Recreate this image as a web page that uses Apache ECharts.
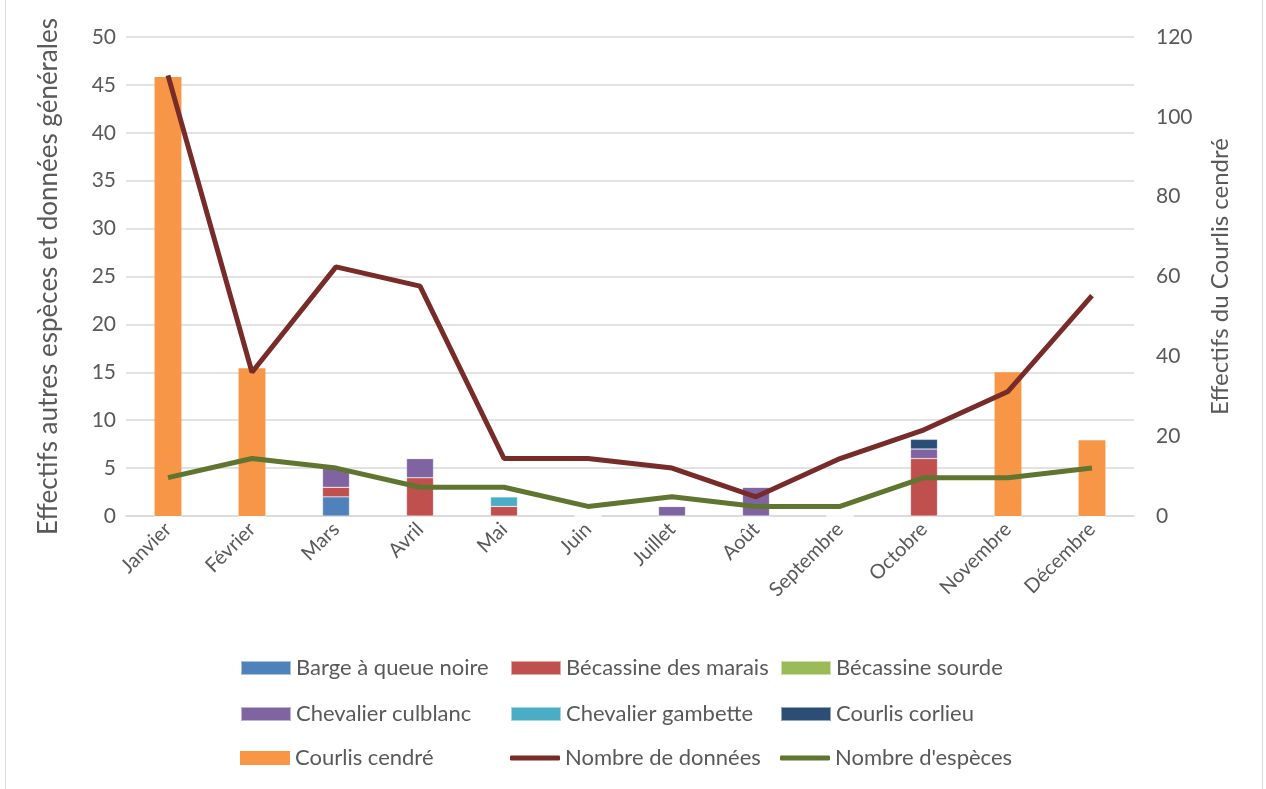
<!DOCTYPE html>
<html><head><meta charset="utf-8">
<script src="https://cdn.jsdelivr.net/npm/echarts@6/dist/echarts.min.js"></script>
<style>html,body{margin:0;padding:0;background:#fff;overflow:hidden}
#frame{position:absolute;left:5px;top:-2px;width:1258px;height:792px;border:1px solid #d9d9d9;box-sizing:border-box}
#c{position:absolute;left:0;top:0;width:1266px;height:789px}</style>
</head><body><div id="frame"></div><div id="c"></div>
<script>
const months = ['Janvier','Février','Mars','Avril','Mai','Juin','Juillet','Août','Septembre','Octobre','Novembre','Décembre'];
const bargeQueueNoire    = [0,0,2,0,0,0,0,0,0,0,0,0];
const becassineMarais    = [0,0,1,4,1,0,0,0,0,6,0,0];
const becassineSourde    = [0,0,0,0,0,0,0,0,0,0,0,0];
const chevalierCulblanc  = [0,0,2,2,0,0,1,3,0,1,0,0];
const chevalierGambette  = [0,0,0,0,1,0,0,0,0,0,0,0];
const courlisCorlieu     = [0,0,0,0,0,0,0,0,0,1,0,0];
const courlisCendre      = [110,37,0,0,0,0,0,0,0,0,36,19];
const nombreDonnees      = [46,15,26,24,6,6,5,2,6,9,13,23];
const nombreEspeces      = [4,6,5,3,3,1,2,1,1,4,4,5];
const leftTicks = [0,50,5];
const rightTicks = [0,120,20];
const legendOrder = ['Barge à queue noire','Bécassine des marais','Bécassine sourde',
  'Chevalier culblanc','Chevalier gambette','Courlis corlieu',
  'Courlis cendré','Nombre de données','Nombre d\'espèces'];
const lineNames = ['Nombre de données','Nombre d\'espèces'];

const font = 'Lato, "Open Sans", sans-serif';
const txt = '#595959';
const chart = echarts.init(document.getElementById('c'));
function barS(name, data, color){
  return {name, type:'bar', stack:'autres', yAxisIndex:0, data, barWidth:'32%', barGap:'-100%',
    itemStyle:{color, borderColor:'rgba(255,255,255,0.5)', borderWidth:0.5}};
}
const colX = [235, 505, 775];
const rowY = [652, 698, 742];
const legends = legendOrder.map((name, i) => {
  const isLine = lineNames.includes(name);
  return {left: colX[i % 3], top: rowY[Math.floor(i / 3)], padding:5,
    itemWidth:50, itemHeight: isLine ? 5 : 14, itemGap:0,
    data:[{name, icon: isLine ? 'roundRect' : 'rect'}],
    textStyle:{fontFamily:font, fontSize:22, color:txt}};
});
chart.setOption({
  animation:false,
  grid:{left:126, right:132, top:37, bottom:273},
  legend: legends,
  xAxis:{type:'category', data:months,
    axisLine:{lineStyle:{color:'#d9d9d9', width:1.5}}, axisTick:{show:false},
    axisLabel:{rotate:45, interval:0, fontFamily:font, fontSize:20, color:txt, margin:10}},
  yAxis:[
    {type:'value', min:leftTicks[0], max:leftTicks[1], interval:leftTicks[2],
     name:'Effectifs autres espèces et données générales', nameLocation:'middle', nameGap:64, nameRotate:90,
     nameTextStyle:{fontFamily:font, fontSize:26, color:txt},
     axisLine:{show:false}, axisTick:{show:false},
     axisLabel:{fontFamily:font, fontSize:21, color:txt, margin:10},
     splitLine:{lineStyle:{color:'#d9d9d9', width:1.5}}},
    {type:'value', min:rightTicks[0], max:rightTicks[1], interval:rightTicks[2], position:'right',
     name:'Effectifs du Courlis cendré', nameLocation:'middle', nameGap:74, nameRotate:90,
     nameTextStyle:{fontFamily:font, fontSize:24, color:txt},
     axisLine:{show:false}, axisTick:{show:false},
     axisLabel:{fontFamily:font, fontSize:21, color:txt, margin:22},
     splitLine:{show:false}}
  ],
  series:[
    barS('Barge à queue noire', bargeQueueNoire, '#4F81BD'),
    barS('Bécassine des marais', becassineMarais, '#C0504D'),
    barS('Bécassine sourde', becassineSourde, '#9BBB59'),
    barS('Chevalier culblanc', chevalierCulblanc, '#8064A2'),
    barS('Chevalier gambette', chevalierGambette, '#4BACC6'),
    barS('Courlis corlieu', courlisCorlieu, '#2C4D75'),
    {name:'Courlis cendré', type:'bar', yAxisIndex:1, data:courlisCendre, barWidth:'32%', barGap:'-100%',
     itemStyle:{color:'#F79646'}},
    {name:'Nombre de données', type:'line', yAxisIndex:0, data:nombreDonnees, symbol:'none',
     lineStyle:{color:'#772C2A', width:5}, itemStyle:{color:'#772C2A'}, z:5},
    {name:'Nombre d\'espèces', type:'line', yAxisIndex:0, data:nombreEspeces, symbol:'none',
     lineStyle:{color:'#5F7530', width:5}, itemStyle:{color:'#5F7530'}, z:5}
  ]
});
</script></body></html>
